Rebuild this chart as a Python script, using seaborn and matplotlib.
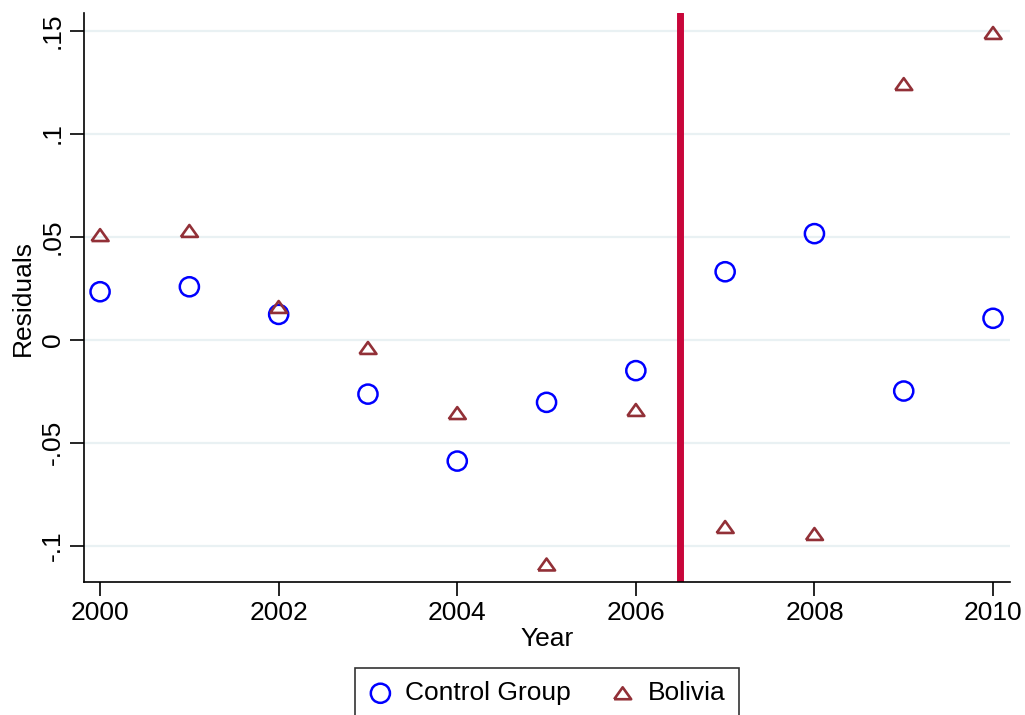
import numpy as np
import pandas as pd
import seaborn as sns
import matplotlib.pyplot as plt
from matplotlib.ticker import FuncFormatter, FixedLocator


years = [2000, 2001, 2002, 2003, 2004, 2005, 2006, 2007, 2008, 2009, 2010]
control = [0.0232, 0.0256, 0.0122, -0.0265, -0.0590, -0.0305, -0.0151, 0.0329, 0.0514, -0.0250, 0.0103]
bolivia = [0.0507, 0.0527, 0.0158, -0.0041, -0.0357, -0.1092, -0.0342, -0.0910, -0.0944, 0.1240, 0.1488]
treatment_year = 2006.5
y_ticks = [-0.1, -0.05, 0, 0.05, 0.1, 0.15]
x_ticks = [2000, 2002, 2004, 2006, 2008, 2010]

df = pd.DataFrame({"Year": years, "Control Group": control, "Bolivia": bolivia})

sns.set_style("white")
plt.rcParams["font.family"] = ["Liberation Sans", "DejaVu Sans"]
plt.rcParams["text.color"] = "black"
plt.rcParams["axes.labelcolor"] = "black"
plt.rcParams["xtick.color"] = "black"
plt.rcParams["ytick.color"] = "black"

fig = plt.figure(figsize=(10.25, 7.15), dpi=100)
ax = fig.add_axes([84 / 1025, 1 - 582 / 715, (1010 - 84) / 1025, (582 - 13) / 715])

# grid lines
for t in y_ticks:
    ax.axhline(t, color="#e9f1f3", lw=1.6, zorder=0)

ax.axvline(treatment_year, color="#c8063a", lw=5, zorder=1)

sns.scatterplot(data=df, x="Year", y="Control Group", marker="o", s=190,
                facecolors="none", edgecolor="#0000ff", linewidth=1.8,
                ax=ax, label="Control Group", zorder=3)
tri = [(-1, -0.7), (1, -0.7), (0, 0.7), (-1, -0.7)]
sns.scatterplot(data=df, x="Year", y="Bolivia", marker=tri, s=150,
                facecolors="none", edgecolor="#923037", linewidth=1.9,
                ax=ax, label="Bolivia", zorder=3)

ax.set_xlim(1999.82, 2010.19)
ax.set_ylim(-0.1177, 0.1585)
ax.xaxis.set_major_locator(FixedLocator(x_ticks))
ax.yaxis.set_major_locator(FixedLocator(y_ticks))


def fmt(v, pos):
    s = f"{v:g}"
    return s.replace("0.", ".")


ax.yaxis.set_major_formatter(FuncFormatter(fmt))
for lab in ax.get_yticklabels():
    lab.set_rotation(90)
    lab.set_va("center")

ax.tick_params(axis="both", labelsize=19, length=10, width=1.2, color="black",
               labelcolor="black", direction="out", left=True, bottom=True, pad=4)
for s in ["top", "right"]:
    ax.spines[s].set_visible(False)
for s in ["left", "bottom"]:
    ax.spines[s].set_color("black")
    ax.spines[s].set_linewidth(1.2)

ax.set_xlabel("Year", fontsize=19, labelpad=1)
ax.set_ylabel("Residuals", fontsize=19, labelpad=4)

ax.get_legend().remove()
h, l = ax.get_legend_handles_labels()
leg = fig.legend(h, l, loc="upper center", bbox_to_anchor=(547 / 1025, 1 - 668 / 715),
                 borderaxespad=0, ncol=2, fontsize=19, frameon=True, fancybox=False,
                 edgecolor="black", borderpad=0.5, handletextpad=0.5,
                 columnspacing=1.5, handlelength=0.9)
leg.get_frame().set_linewidth(1.2)

fig.savefig("out.png", dpi=100)
